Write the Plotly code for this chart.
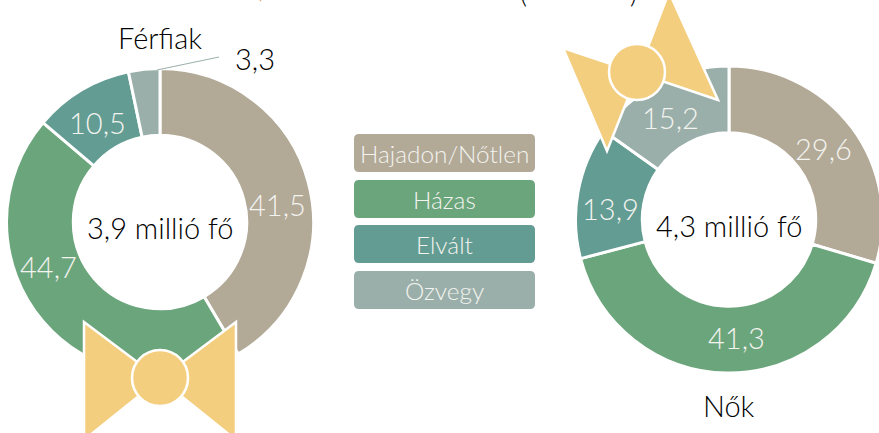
import plotly.graph_objects as go

categories = ["Hajadon/Nőtlen", "Házas", "Elvált", "Özvegy"]
ferfiak = [41.5, 44.7, 10.5, 3.3]
nok = [29.6, 41.3, 13.9, 15.2]
colors = ["#B2A997", "#6BA57B", "#629C92", "#9AAFA9"]
BOW = "#F4CE7F"
FONT = "Lato"
W, H = 883, 433


def px(x):
    return x / W


def py(y):
    return 1 - y / H


def dom(cx, cy, r):
    return dict(x=[px(cx - r), min(1, px(cx + r))], y=[py(cy + r), py(cy - r)])


def label(v):
    return f"{v:.1f}".replace(".", ",")


def pie(values, cx, cy):
    return go.Pie(
        labels=categories, values=values, hole=0.565, sort=False,
        direction="clockwise", rotation=0, textinfo="none", showlegend=False,
        hoverinfo="skip", domain=dom(cx, cy, 153.5),
        marker=dict(colors=colors, line=dict(color="white", width=3)),
    )


fig = go.Figure([pie(ferfiak, 160, 222), pie(nok, 729, 219.5)])

shapes = []
annotations = []


def text(x, y, s, size=29, color="black"):
    annotations.append(dict(
        xref="paper", yref="paper", x=px(x), y=py(y), text=s, showarrow=False,
        xanchor="center", yanchor="middle",
        font=dict(family=FONT, size=size, color=color, weight=300),
    ))


def polygon(points):
    path = "M " + " L ".join(f"{px(x)} {py(y)}" for x, y in points) + " Z"
    shapes.append(dict(type="path", xref="paper", yref="paper", path=path,
                       fillcolor=BOW, line=dict(color="white", width=2.5), layer="above"))


def circle(cx, cy, r):
    shapes.append(dict(type="circle", xref="paper", yref="paper",
                       x0=px(cx - r), x1=px(cx + r), y0=py(cy + r), y1=py(cy - r),
                       fillcolor=BOW, line=dict(color="white", width=2.5), layer="above"))


def rrect(x0, y0, x1, y1, r, color):
    p = [f"M {px(x0 + r)} {py(y0)}", f"L {px(x1 - r)} {py(y0)}",
         f"Q {px(x1)} {py(y0)} {px(x1)} {py(y0 + r)}", f"L {px(x1)} {py(y1 - r)}",
         f"Q {px(x1)} {py(y1)} {px(x1 - r)} {py(y1)}", f"L {px(x0 + r)} {py(y1)}",
         f"Q {px(x0)} {py(y1)} {px(x0)} {py(y1 - r)}", f"L {px(x0)} {py(y0 + r)}",
         f"Q {px(x0)} {py(y0)} {px(x0 + r)} {py(y0)}", "Z"]
    shapes.append(dict(type="path", xref="paper", yref="paper", path=" ".join(p),
                       fillcolor=color, line=dict(width=0), layer="above"))


# value labels
men_pos = [(277, 204), (48.5, 266), (97, 122)]
for v, (x, y) in zip(ferfiak[:3], men_pos):
    text(x, y, label(v), color="#F3F3EF")
women_pos = [(823, 148), (736, 337), (610, 209), (670, 117)]
for v, (x, y) in zip(nok, women_pos):
    text(x, y, label(v), color="#F3F3EF")

text(255, 58, label(ferfiak[3]))
shapes.append(dict(type="line", xref="paper", yref="paper",
                   x0=px(157), y0=py(70), x1=px(219), y1=py(57),
                   line=dict(color="#9AAFA9", width=1)))

text(160, 37, "Férfiak")
text(729, 405, "Nők")
text(160, 227, "3,9 millió fő")
text(729, 225, "4,3 millió fő")

# legend
rows = [(134, 172), (180, 218), (225, 263), (271, 309)]
for name, color, (y0, y1) in zip(categories, colors, rows):
    rrect(354, y0, 535, y1, 5, color)
    text(444.5, (y0 + y1) / 2, name, size=24.4, color="#F3F3EF")

# bow ties
polygon([(84, 322), (160, 379), (84, 440)])
polygon([(236, 322), (160, 379), (236, 440)])
circle(160, 378, 28)
polygon([(563, 48), (638, 73), (607, 151)])
polygon([(718, 100), (638, 73), (669, -8)])
circle(637, 72, 28)

# clipped title fragments at the very top of the crop
text(261, -12, ",", size=27, color="#D9782F")
text(523, -8, "(", size=27)
text(633, -8, ")", size=27)

fig.update_layout(
    width=W, height=H, margin=dict(l=0, r=0, t=0, b=0), autosize=False,
    paper_bgcolor="white", plot_bgcolor="white",
    shapes=shapes, annotations=annotations, showlegend=False,
)
fig.write_html("out.html", config={"displayModeBar": False, "responsive": False},
               post_script="document.documentElement.style.overflow='hidden';document.body.style.overflow='hidden';document.body.style.margin='0';")
